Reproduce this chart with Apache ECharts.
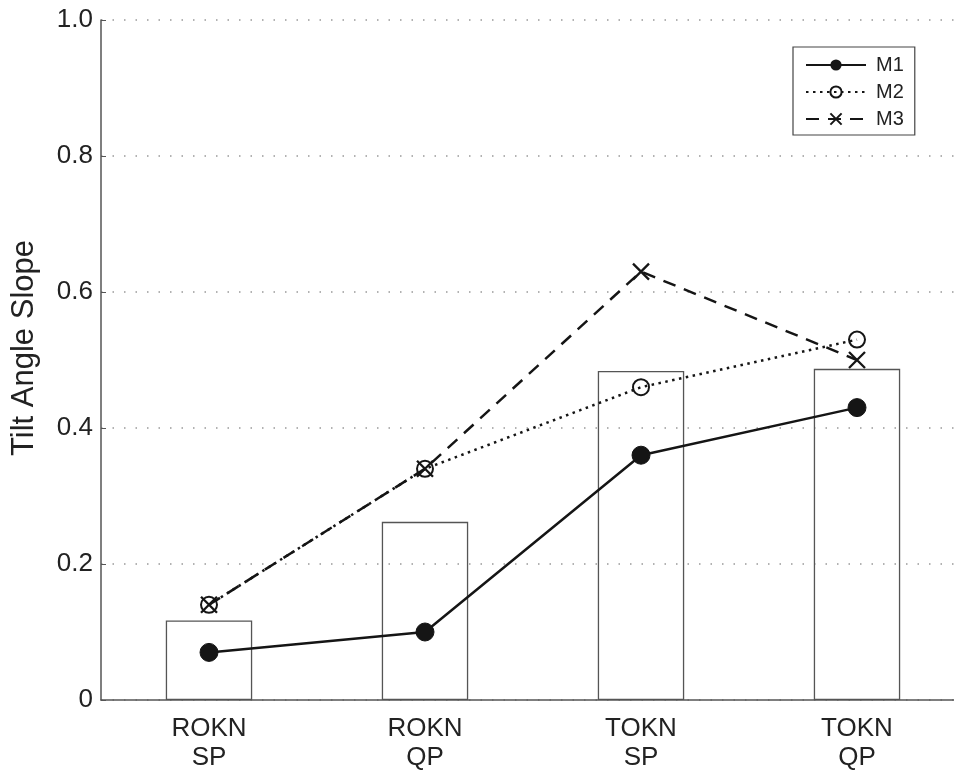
<!DOCTYPE html>
<html lang="en">
<head>
    <meta charset="UTF-8">
    <title>Tilt Angle Slope</title>
    <script src="https://cdn.jsdelivr.net/npm/echarts@6/dist/echarts.min.js"></script>
    <style>
        html, body { margin: 0; padding: 0; background: #fff; overflow: hidden; }
    </style>
</head>
<body>
    <!-- plot runs a little past the right edge of the window, as in the original figure -->
    <div id="main" style="width: 965px; height: 774px;"></div>
    <script>
        var categories = ['ROKN\nSP', 'ROKN\nQP', 'TOKN\nSP', 'TOKN\nQP'];
        var barValues = [0.117, 0.262, 0.484, 0.487];
        var m1 = [0.07, 0.10, 0.36, 0.43];
        var m2 = [0.14, 0.34, 0.46, 0.53];
        var m3 = [0.14, 0.34, 0.63, 0.50];
        var yTicks = [0, 0.2, 0.4, 0.6, 0.8, 1.0];

        var ink = '#151515';
        var crossPath = 'path://M0,0L10,10M10,0L0,10';

        var myChart = echarts.init(document.getElementById('main'));

        var option = {
            backgroundColor: '#fff',
            animation: false,
            textStyle: { fontFamily: 'Liberation Sans, Arial, sans-serif' },
            grid: { left: 101, right: 0, top: 20, bottom: 74, containLabel: false },
            legend: {
                data: ['M1', 'M2', 'M3'],
                orient: 'vertical',
                left: 793,
                top: 47,
                padding: [8, 11, 6, 12],
                itemWidth: 60,
                itemHeight: 14,
                itemGap: 7,
                borderColor: '#444',
                borderWidth: 1.2,
                borderRadius: 0,
                backgroundColor: '#fff',
                textStyle: { fontSize: 20, color: '#222', padding: [0, 0, 0, 5] }
            },
            xAxis: {
                type: 'category',
                data: categories,
                axisLine: { lineStyle: { color: '#555', width: 1.5 } },
                axisTick: { inside: true, length: 8, alignWithLabel: true, lineStyle: { color: '#555' } },
                axisLabel: { fontSize: 26, color: '#222', lineHeight: 29, margin: 14 },
                splitLine: { show: false }
            },
            yAxis: {
                type: 'value',
                min: 0,
                max: 1,
                interval: 0.2,
                name: 'Tilt Angle Slope',
                nameLocation: 'middle',
                nameGap: 61,
                nameRotate: 90,
                nameTextStyle: { fontSize: 31, color: '#222', padding: [0, 0, 0, 24] },
                axisLine: { show: true, lineStyle: { color: '#555', width: 1.5 } },
                axisTick: { show: true, inside: true, length: 5, lineStyle: { color: '#555' } },
                axisLabel: {
                    fontSize: 26,
                    color: '#222',
                    margin: 8,
                    formatter: function (v) {
                        if (v === 0) return '0';
                        var t = yTicks.indexOf(Math.round(v * 10) / 10);
                        return t >= 0 ? v.toFixed(1) : '';
                    }
                },
                splitLine: { show: true, lineStyle: { color: '#999', type: [1.5, 10], width: 1.5 } }
            },
            series: [
                {
                    name: 'bars',
                    type: 'bar',
                    data: barValues,
                    barWidth: '40%',
                    itemStyle: { color: 'rgba(0,0,0,0)', borderColor: '#555', borderWidth: 1.3 },
                    z: 1
                },
                {
                    name: 'M3',
                    type: 'line',
                    data: m3,
                    symbol: crossPath,
                    symbolSize: 16,
                    lineStyle: { color: ink, width: 2.5, type: [13, 9] },
                    itemStyle: { color: 'rgba(0,0,0,0)', borderColor: ink, borderWidth: 2.3 },
                    z: 3
                },
                {
                    name: 'M2',
                    type: 'line',
                    data: m2,
                    symbol: 'circle',
                    symbolSize: 16,
                    lineStyle: { color: ink, width: 2.5, type: [2.5, 4.5] },
                    itemStyle: { color: 'rgba(0,0,0,0)', borderColor: ink, borderWidth: 2 },
                    z: 4
                },
                {
                    name: 'M1',
                    type: 'line',
                    data: m1,
                    symbol: 'circle',
                    symbolSize: 18,
                    lineStyle: { color: ink, width: 2.5 },
                    itemStyle: { color: ink, borderColor: ink },
                    z: 5
                }
            ]
        };

        myChart.setOption(option);
    </script>
</body>
</html>
